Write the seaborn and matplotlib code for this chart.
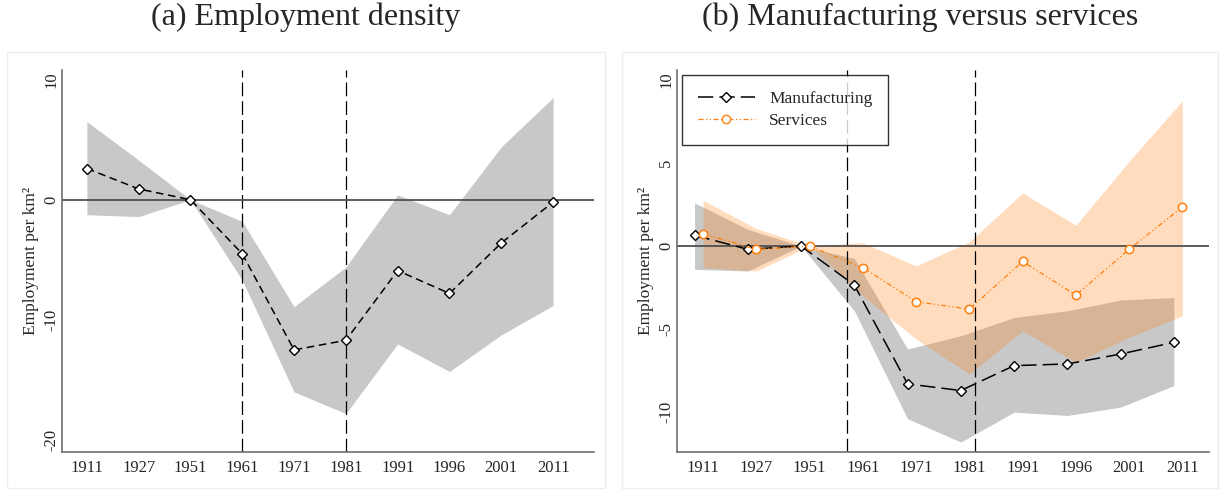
import numpy as np
import pandas as pd
import matplotlib.pyplot as plt
import seaborn as sns
from matplotlib.patches import Rectangle
from matplotlib.lines import Line2D

# ----------------------------------------------------------------------------
# Data
# ----------------------------------------------------------------------------
years = ['1911', '1927', '1951', '1961', '1971', '1981', '1991', '1996', '2001', '2011']

# (a) employment density
dens = [2.6, 0.9, 0.0, -4.5, -12.5, -11.7, -5.9, -7.8, -3.6, -0.2]
dens_hi = [6.5, 3.3, 0.0, -1.8, -8.9, -5.6, 0.4, -1.25, 4.4, 8.5]
dens_lo = [-1.25, -1.4, 0.0, -6.7, -16.0, -17.8, -12.0, -14.3, -11.25, -8.8]

# (b) manufacturing vs services
manuf = [0.65, -0.2, 0.0, -2.35, -8.3, -8.7, -7.2, -7.1, -6.5, -5.8]
manuf_hi = [2.6, 1.0, 0.0, -0.75, -6.2, -5.4, -4.3, -3.9, -3.25, -3.1]
manuf_lo = [-1.4, -1.5, 0.0, -3.9, -10.4, -11.8, -10.0, -10.2, -9.7, -8.4]

serv = [0.75, -0.2, 0.0, -1.3, -3.35, -3.8, -0.93, -2.95, -0.2, 2.35]
serv_hi = [2.75, 1.05, 0.0, 0.2, -1.2, 0.25, 3.2, 1.25, 5.1, 8.75]
serv_lo = [-1.3, -1.5, 0.0, -3.0, -5.6, -7.7, -5.1, -7.0, -5.5, -4.2]

# ----------------------------------------------------------------------------
sns.set_style('white')
plt.rcParams['font.family'] = ['Liberation Serif', 'DejaVu Serif']

ORANGE = '#ff7f0e'
GRAY_BAND = '#c8c8c8'
SPINE = '#6e6e6e'

idx = np.arange(len(years))
offset = -0.16  # manufacturing drawn slightly left of the tick in panel (b)

fig = plt.figure(figsize=(12.24, 4.91), dpi=100)
W, H = 1224, 491

def px_axes(left, top, right, bottom):
    return fig.add_axes([left / W, 1 - bottom / H, (right - left) / W, (bottom - top) / H])

ax1 = px_axes(62, 70, 594, 452)
ax2 = px_axes(677, 70, 1209, 452)

# faint frames around each panel + panel titles centred on them
titles = ['(a) Employment density', '(b) Manufacturing versus services']
for (x0, x1), title in zip([(7, 605), (622, 1218)], titles):
    fig.patches.append(Rectangle((x0 / W, 1 - 488 / H), (x1 - x0) / W, (488 - 52) / H,
                                 transform=fig.transFigure, fill=False,
                                 edgecolor='#eeeeee', lw=1.0, zorder=0))
    fig.text((x0 + x1) / 2 / W, 1 - 17 / H, title, fontsize=23,
             ha='center', va='center')

def style_axes(ax, ylim, yticks):
    ax.set_ylim(*ylim)
    ax.set_yticks(yticks)
    ax.set_yticklabels([str(t) for t in yticks], rotation=90, va='center')
    ax.set_xticks(idx)
    ax.set_xticklabels(years)
    ax.tick_params(axis='both', length=0, labelsize=12, pad=6)
    ax.tick_params(axis='y', pad=2)
    for s in ['top', 'right']:
        ax.spines[s].set_visible(False)
    for s in ['left', 'bottom']:
        ax.spines[s].set_color(SPINE)
        ax.spines[s].set_linewidth(1.2)
    ax.set_ylabel('Employment per km²', fontsize=12.5)
    ax.yaxis.set_label_coords(-0.043, 0.5)
    ax.axhline(0, color='#505050', lw=1.3, zorder=2)

# ----------------------------------------------------------------------------
# (a) Employment density
# ----------------------------------------------------------------------------
ax1.fill_between(idx, dens_lo, dens_hi, color=GRAY_BAND, lw=0, zorder=1)
for xv in [3.0, 5.0]:
    ax1.axvline(xv, color='black', lw=0.9, dashes=(11, 4), zorder=2)
sns.lineplot(x=idx, y=dens, ax=ax1, color='black', lw=1.1, marker='D', markersize=5.5,
             markerfacecolor='white', markeredgecolor='black', markeredgewidth=1.0,
             zorder=4)
ax1.lines[-1].set_dashes((5, 3))
style_axes(ax1, (-21, 10.8), [-20, -10, 0, 10])
ax1.set_xlim(-0.48, 9.79)

# ----------------------------------------------------------------------------
# (b) Manufacturing versus services
# ----------------------------------------------------------------------------
ax2.fill_between(idx + offset, manuf_lo, manuf_hi, color=GRAY_BAND, lw=0, zorder=1)
ax2.fill_between(idx, serv_lo, serv_hi, color=ORANGE, alpha=0.27, lw=0, zorder=1)
for xv in [2.7, 5.1]:
    ax2.axvline(xv, color='black', lw=0.9, dashes=(11, 4), zorder=2)
sns.lineplot(x=idx + offset, y=manuf, ax=ax2, color='black', lw=1.1, marker='D',
             markersize=5.5, markerfacecolor='white', markeredgecolor='black',
             markeredgewidth=1.0, zorder=4)
ax2.lines[-1].set_dashes((10, 4))
sns.lineplot(x=idx, y=serv, ax=ax2, color=ORANGE, lw=0.9, marker='o', markersize=6,
             markerfacecolor='white', markeredgecolor=ORANGE, markeredgewidth=1.1,
             zorder=4)
ax2.lines[-1].set_dashes((4, 2, 1, 2, 1, 2))
style_axes(ax2, (-12.4, 10.6), [-10, -5, 0, 5, 10])
ax2.set_xlim(-0.49, 9.5)

handles = [
    Line2D([], [], color='black', lw=1.1, dashes=(10, 4), marker='D', markersize=5.5,
           markerfacecolor='white', markeredgecolor='black'),
    Line2D([], [], color=ORANGE, lw=0.9, dashes=(4, 2, 1, 2, 1, 2), marker='o',
           markersize=6, markerfacecolor='white', markeredgecolor=ORANGE),
]
leg = ax2.legend(handles, ['Manufacturing', 'Services'], loc='upper left',
                 bbox_to_anchor=(0.0, 1.0), fontsize=12.5, frameon=True, fancybox=False,
                 edgecolor='black', handlelength=3.3, borderpad=0.9, labelspacing=0.35,
                 borderaxespad=0.3)
leg.get_frame().set_linewidth(1.0)

fig.savefig('out.png', dpi=100)
